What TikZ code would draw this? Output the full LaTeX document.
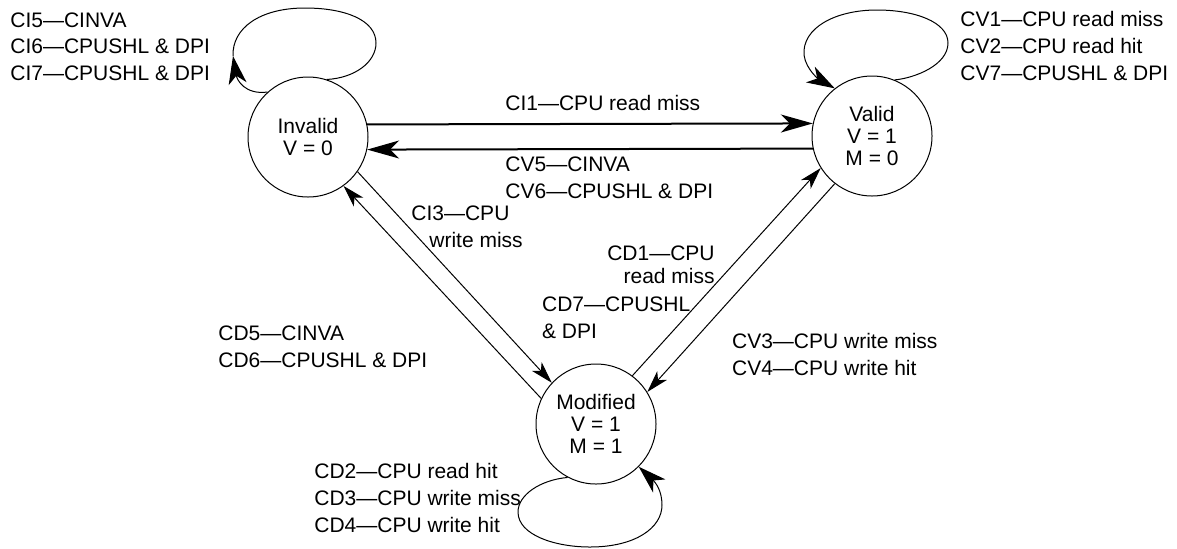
\documentclass[tikz,border=0pt]{standalone}
\usepackage{fontspec}
\setmainfont{Liberation Sans}
\usetikzlibrary{arrows.meta}
\newcommand{\evtfont}{\fontsize{10.5pt}{13.3pt}\selectfont}
\newcommand{\statefont}{\fontsize{10.5pt}{11pt}\selectfont}

\begin{document}
\begin{tikzpicture}[x=0.5pt, y=-0.5pt,
    state/.style={circle, draw, line width=0.5pt, minimum size=60pt, inner sep=0pt, align=center, font=\statefont},
    evt/.style={inner sep=0pt, align=left, font=\evtfont},
    heavy/.style={line width=1pt, -{Stealth[length=16pt, width=9pt, inset=4.5pt]}},
    light/.style={line width=0.5pt, -{Stealth[length=11pt, width=6.5pt, inset=3pt]}},
    ring/.style={line width=0.5pt},
    ringtip/.style={line width=0.5pt, -{Stealth[length=14pt, width=9pt, inset=4pt]}}]

    \useasboundingbox (0,0) rectangle (1177,548);

    % States
    \node[state] (inv) at (308,137) {Invalid\\V = 0};
    \node[state] (val) at (872,136) {Valid\\V = 1\\M = 0};
    \node[state] (mod) at (596,424) {Modified\\V = 1\\M = 1};

    % Invalid <-> Valid
    \draw[heavy] (inv.12) -- (val.168);
    \draw[heavy] (val.192) -- (inv.-12);

    % Invalid <-> Modified
    \draw[light] (inv.-35) -- (mod.137);
    \draw[light] (mod.155) -- (inv.-54);

    % Valid <-> Modified
    \draw[light] (mod.53) -- (val.212);
    \draw[light] (val.232) -- (mod.32);

    % Invalid self loop (tip meets the loop)
    \coordinate (invend) at (233,56);
    \draw[ring] (inv.72) .. controls (355,78) and (376,62) .. (376,43)
        .. controls (376,20) and (345,8) .. (305,8)
        .. controls (260,8) and (232,28) .. (invend);
    \draw[ringtip] (inv.132) .. controls (245,95) and (237,80) .. (invend);

    % Valid self loop
    \draw[ringtip] (val.68) .. controls (915,78) and (948,65) .. (948,43)
        .. controls (948,22) and (915,10) .. (877,10)
        .. controls (835,10) and (802,28) .. (804,55)
        .. controls (806,70) and (820,80) .. (val.128);

    % Modified self loop
    \draw[ringtip] (mod.242) .. controls (540,480) and (518,495) .. (518,512)
        .. controls (518,535) and (555,547) .. (590,547)
        .. controls (635,547) and (662,528) .. (662,505)
        .. controls (662,490) and (655,482) .. (mod.-45);

    % Transition labels (base = last line)
    \node[evt, anchor=base west] (ilbl) at (10,80.5) {CI5—CINVA\\CI6—CPUSHL \& DPI\\CI7—CPUSHL \& DPI};
    \node[evt, anchor=base west] (vlbl) at (960,80) {CV1—CPU read miss\\CV2—CPU read hit\\CV7—CPUSHL \& DPI};
    \node[evt, anchor=base west] (ci1) at (505,110) {CI1—CPU read miss};
    \node[evt, anchor=base west] (cv5) at (505,198.5) {CV5—CINVA\\CV6—CPUSHL \& DPI};
    \node[evt, anchor=base west] (ci3) at (411,247) {CI3—CPU\\\hspace*{9pt}write miss};
    \node[evt, anchor=base east, align=right] (cd1) at (715,283) {CD1—CPU\\[-2.2pt]read miss};
    \node[evt, anchor=base west] (cd7) at (541.7,338) {CD7—CPUSHL\\\& DPI};
    \node[evt, anchor=base west] (cd5) at (218,367) {CD5—CINVA\\CD6—CPUSHL \& DPI};
    \node[evt, anchor=base west] (cv3) at (731.7,375.5) {CV3—CPU write miss\\CV4—CPU write hit};
    \node[evt, anchor=base west] (cd2) at (314,532) {CD2—CPU read hit\\CD3—CPU write miss\\CD4—CPU write hit};

\end{tikzpicture}
\end{document}
